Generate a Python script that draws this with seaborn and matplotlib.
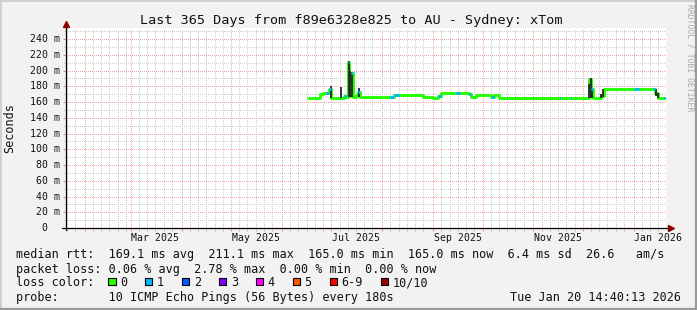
import numpy as np
import pandas as pd
import matplotlib
matplotlib.use("Agg")
import matplotlib.pyplot as plt
import matplotlib.dates as mdates
import matplotlib.transforms as mtransforms
from matplotlib.ticker import MultipleLocator, NullFormatter
from matplotlib.patches import Rectangle
import seaborn as sns

# ---------------- data ----------------
title = "Last 365 Days from f89e6328e825 to AU - Sydney: xTom"
x_start = "2025-01-20 14:40"
x_end = "2026-01-20 14:40"

seg_start = ["2025-06-17", "2025-06-24", "2025-06-26", "2025-06-28", "2025-06-29 12:00",
             "2025-07-01", "2025-07-09", "2025-07-10", "2025-07-11 06:00", "2025-07-12",
             "2025-07-13 06:00", "2025-07-14", "2025-07-16", "2025-07-17 12:00", "2025-07-18 12:00",
             "2025-08-06", "2025-08-08", "2025-08-11", "2025-08-26", "2025-09-01",
             "2025-09-04", "2025-09-06", "2025-09-15", "2025-09-17", "2025-09-23",
             "2025-09-24", "2025-09-27", "2025-10-06", "2025-10-08", "2025-10-11",
             "2025-11-17", "2025-11-18", "2025-11-23", "2025-11-24", "2025-12-05",
             "2025-12-06", "2025-12-07", "2025-12-12", "2025-12-14", "2026-01-01",
             "2026-01-04", "2026-01-13", "2026-01-14", "2026-01-16", "2026-01-19 12:00"]
seg_rtt = [165, 170, 172, 172, 176, 165, 168, 166, 211, 168,
           197, 166, 169, 173, 166, 167, 169, 169, 167, 165,
           168, 172, 172, 171, 170, 166, 169, 166, 169, 165,
           165, 165, 165, 165, 189, 176, 165, 168, 176, 176,
           176, 176, 171, 165, 165]
seg_loss = [0, 0, 0, 1, 1, 0, 1, 0, 1, 0,
            1, 0, 0, 1, 0, 1, 1, 0, 0, 0,
            1, 0, 1, 0, 1, 0, 0, 1, 0, 0,
            1, 0, 1, 0, 0, 1, 0, 0, 0, 1,
            0, 1, 0, 0, 1]

smoke_time = ["2025-07-01 00:00", "2025-07-06 18:00", "2025-07-11 15:00", "2025-07-12 12:00",
              "2025-07-13 15:00", "2025-07-17 18:00", "2025-12-05 00:00", "2025-12-05 18:00",
              "2025-12-06 12:00", "2025-12-12 06:00", "2025-12-13 12:00", "2026-01-14 12:00",
              "2026-01-15 12:00"]
smoke_lo = [165, 165, 166, 166, 166, 166, 165, 165, 165, 165, 167, 168, 165]
smoke_hi = [180, 179, 212, 200, 198, 178, 183, 190, 176, 170, 176, 176, 172]

ytick_vals = [0, 20, 40, 60, 80, 100, 120, 140, 160, 180, 200, 220, 240]
ytick_labels = ["0", "20 m", "40 m", "60 m", "80 m", "100 m", "120 m", "140 m",
                "160 m", "180 m", "200 m", "220 m", "240 m"]
xlabel_dates = ["2025-03-16", "2025-05-16", "2025-07-16", "2025-09-16", "2025-11-16", "2026-01-16"]
xlabel_text = ["Mar 2025", "May 2025", "Jul 2025", "Sep 2025", "Nov 2025", "Jan 2026"]

loss_labels = ["0", "1", "2", "3", "4", "5", "6-9", "10/10"]
loss_colors = ["#26ff00", "#00b8ff", "#0059ff", "#7e00ff", "#ff00ff", "#ff5500", "#ff0000", "#a10000"]

legend_rows = [
    "median rtt:  169.1 ms avg  211.1 ms max  165.0 ms min  165.0 ms now  6.4 ms sd  26.6   am/s",
    "packet loss: 0.06 % avg  2.78 % max  0.00 % min  0.00 % now",
    "loss color:",
    "probe:       10 ICMP Echo Pings (56 Bytes) every 180s",
]
timestamp = "Tue Jan 20 14:40:13 2026"
watermark = "RRDTOOL / TOBI OETIKER"
ylabel = "Seconds"

# ---------------- style ----------------
sns.set_style("white")
plt.rcParams["font.family"] = ["DejaVu Sans Mono", "DejaVu Sans"]
BG = "#f2f2f2"
MONO = "DejaVu Sans Mono"

def to_dt(strings):
    return pd.to_datetime(strings, format="mixed")

W, H = 697, 310
fig = plt.figure(figsize=(W / 100, H / 100), dpi=100, facecolor=BG)
ax = fig.add_axes([66 / W, 82 / H, 600 / W, 200 / H])
ax.set_facecolor("white")

t_seg = to_dt(seg_start + [x_end])
df = pd.DataFrame({"time": t_seg, "rtt": seg_rtt + [seg_rtt[-1]]})
sns.lineplot(data=df, x="time", y="rtt", drawstyle="steps-post", color=loss_colors[0],
             lw=2.1, ax=ax, zorder=3)

tnum = mdates.date2num(t_seg)
# smoke (ping spread) spikes
ax.vlines(mdates.date2num(to_dt(smoke_time)), smoke_lo, smoke_hi,
          color="#262626", lw=1.3, zorder=4)
# loss-coloured median segments
for i, (v, l) in enumerate(zip(seg_rtt, seg_loss)):
    if l > 0:
        ax.hlines(v, tnum[i], tnum[i + 1], color=loss_colors[l], lw=2.1, zorder=5)

ax.set_xlim(pd.Timestamp(x_start), pd.Timestamp(x_end))
ax.set_ylim(0, 254)
ax.set_xlabel("")
ax.set_ylabel("")

ax.xaxis.set_major_locator(mdates.MonthLocator(bymonthday=1))
ax.xaxis.set_minor_locator(mdates.DayLocator(bymonthday=[6, 11, 16, 21, 26]))
ax.xaxis.set_major_formatter(NullFormatter())
ax.xaxis.set_minor_formatter(NullFormatter())
ax.set_yticks(ytick_vals)
ax.yaxis.set_minor_locator(MultipleLocator(10))
ax.yaxis.set_major_formatter(NullFormatter())

dots = (0, (1, 1.5))
ax.grid(which="major", color="#f3a6a6", ls=dots, lw=0.72, antialiased=False)
ax.grid(which="minor", color="#cdcdcd", ls=dots, lw=0.72, antialiased=False)
ax.set_axisbelow(True)
ax.tick_params(which="major", direction="out", length=2.2, width=0.7, color="#e08a8a",
               bottom=True, left=True)
ax.tick_params(which="minor", direction="out", length=1.8, width=0.7, color="#bdbdbd",
               bottom=True, left=True)
for s in ax.spines.values():
    s.set_visible(False)

# axes lines + arrows
ax.plot([-0.006, 1.008], [0, 0], transform=ax.transAxes, color="black", lw=0.9, clip_on=False, zorder=6)
ax.plot([0, 0], [-0.012, 1.02], transform=ax.transAxes, color="black", lw=0.9, clip_on=False, zorder=6)
ax.plot([1.009], [0], marker=">", ms=4.5, color="#8b0000", transform=ax.transAxes, clip_on=False, zorder=7)
ax.plot([0], [1.022], marker="^", ms=4.5, color="#8b0000", transform=ax.transAxes, clip_on=False, zorder=7)

# y tick labels
ytrans = mtransforms.blended_transform_factory(ax.transAxes, ax.transData)
cw_tick = 5.95
for v, lab in zip(ytick_vals, ytick_labels):
    off = 6.5 + (0 if lab.endswith("m") else 2 * cw_tick)
    ax.text(-off / 600, v, lab, transform=ytrans, ha="right", va="center",
            fontsize=7.1, family=MONO, color="#111111")

# x tick labels
xtrans = mtransforms.blended_transform_factory(ax.transData, ax.transAxes)
for d, lab in zip(xlabel_dates, xlabel_text):
    ax.text(mdates.date2num(pd.Timestamp(d)), -13 / 200, lab, transform=xtrans,
            ha="center", va="baseline", fontsize=7.1, family=MONO, color="#111111")

# ---------------- overlay in pixel coordinates ----------------
ov = fig.add_axes([0, 0, 1, 1], zorder=10)
ov.set_xlim(0, W)
ov.set_ylim(H, 0)
ov.axis("off")
ov.patch.set_visible(False)

# border shading
ov.plot([0, W], [0.7, 0.7], color="#d0d0d0", lw=1.4)
ov.plot([0.7, 0.7], [0, H], color="#d0d0d0", lw=1.4)
ov.plot([0, W], [H - 1, H - 1], color="#9a9a9a", lw=1.6)
ov.plot([W - 1, W - 1], [0, H], color="#9a9a9a", lw=1.6)

ov.text(351, 24, title, ha="center", va="baseline", fontsize=9.7, family=MONO, color="#111111")
ov.text(10, 128, ylabel, rotation=90, ha="center", va="center", fontsize=8.5, family=MONO,
        color="#111111")
ov.text(690, 58, watermark, rotation=270, ha="center", va="center", fontsize=5.9,
        family=MONO, color="#a9a9a9")

baselines = [258, 272.5, 286.2, 300.6]
for row, yb in zip(legend_rows, baselines):
    ov.text(16, yb, row, ha="left", va="baseline", fontsize=8.5, family=MONO, color="#111111")
ov.text(680.5, baselines[3], timestamp, ha="right", va="baseline", fontsize=8.5, family=MONO,
        color="#111111")

cw = 7.1
bx = 16 + 13 * cw
for lab, col in zip(loss_labels, loss_colors):
    ov.add_patch(Rectangle((bx, 277.6), 7.2, 7.6, facecolor=col, edgecolor="black", lw=0.8))
    ov.text(bx + 1.65 * cw, baselines[2], lab, ha="left", va="baseline", fontsize=8.5,
            family=MONO, color="#111111")
    bx += (len(lab) + 4.2) * cw

fig.savefig("out.png", dpi=100, facecolor=BG)
